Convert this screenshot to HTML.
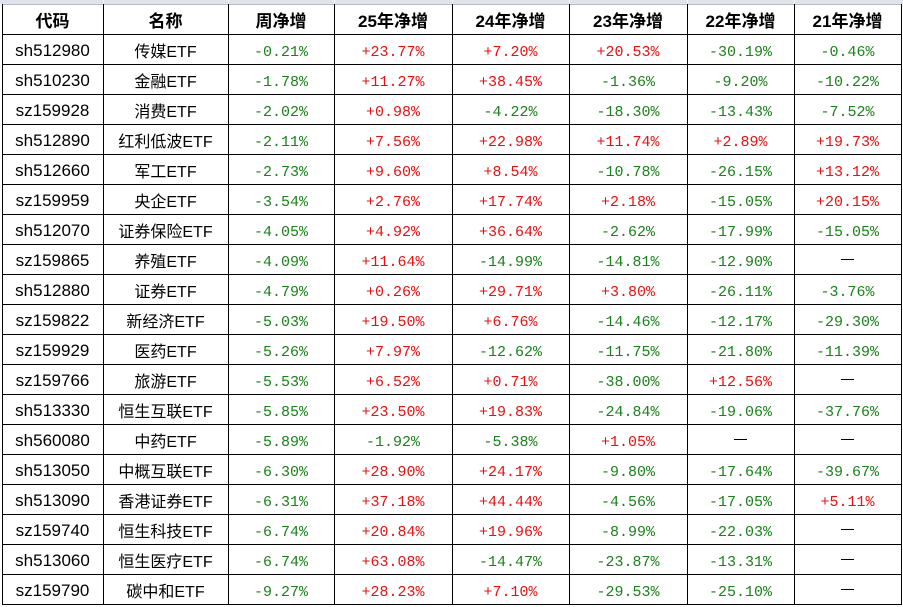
<!DOCTYPE html>
<html><head><meta charset="utf-8">
<style>
html,body{margin:0;padding:0;background:#fff;}
body{width:903px;height:607px;position:relative;overflow:hidden;}
.strip{position:absolute;left:0;top:0;width:903px;height:4px;background:#dfe4ea;}
.sep{position:absolute;top:0;width:1px;height:4px;background:#f4f6f8;}
.v{position:absolute;top:4px;width:1px;height:601px;background:#000;}
.h{position:absolute;left:2px;width:900px;height:1px;background:#000;}
.grid{position:absolute;left:2px;top:4px;display:grid;
 grid-template-columns:101px 125px 106px 118px 117px 118px 107px 107px;
 grid-template-rows:repeat(20,30px);}
.grid div{display:flex;align-items:center;justify-content:center;white-space:nowrap;}
.hd{font-family:"Liberation Sans","Noto Sans CJK SC",sans-serif;font-weight:bold;font-size:17px;color:#000;}
.c{font-family:"Liberation Sans","Noto Sans CJK SC",sans-serif;font-size:17px;color:#000;padding-top:4px;box-sizing:border-box;}
.n{font-family:"Liberation Sans","Noto Sans CJK SC",sans-serif;font-size:16px;color:#000;padding-top:2px;box-sizing:border-box;}
.g,.r{font-family:"Liberation Mono",monospace;font-size:15px;padding-top:6px;box-sizing:border-box;}
.g{color:#1a821a;}
.r{color:#e81010;}
.d span{display:block;width:13px;height:1px;background:#000;}
</style></head><body>
<div class="strip"></div>
<div class="sep" style="left:103px"></div><div class="sep" style="left:228px"></div><div class="sep" style="left:334px"></div><div class="sep" style="left:452px"></div><div class="sep" style="left:569px"></div><div class="sep" style="left:687px"></div><div class="sep" style="left:794px"></div>
<div class="h" style="top:4px;background:#b8bcc2"></div>
<div class="h" style="top:34px"></div><div class="h" style="top:64px"></div><div class="h" style="top:94px"></div><div class="h" style="top:124px"></div><div class="h" style="top:154px"></div><div class="h" style="top:184px"></div><div class="h" style="top:214px"></div><div class="h" style="top:244px"></div><div class="h" style="top:274px"></div><div class="h" style="top:304px"></div><div class="h" style="top:334px"></div><div class="h" style="top:364px"></div><div class="h" style="top:394px"></div><div class="h" style="top:424px"></div><div class="h" style="top:454px"></div><div class="h" style="top:484px"></div><div class="h" style="top:514px"></div><div class="h" style="top:544px"></div><div class="h" style="top:574px"></div><div class="h" style="top:604px"></div>
<div class="v" style="left:2px"></div><div class="v" style="left:103px"></div><div class="v" style="left:228px"></div><div class="v" style="left:334px"></div><div class="v" style="left:452px"></div><div class="v" style="left:569px"></div><div class="v" style="left:687px"></div><div class="v" style="left:794px"></div><div class="v" style="left:901px"></div>
<div class="grid">
<div class="hd">代码</div><div class="hd">名称</div><div class="hd">周净增</div><div class="hd">25年净增</div><div class="hd">24年净增</div><div class="hd">23年净增</div><div class="hd">22年净增</div><div class="hd">21年净增</div>

<div class="c">sh512980</div><div class="n">传媒ETF</div><div class="g">-0.21%</div><div class="r">+23.77%</div><div class="r">+7.20%</div><div class="r">+20.53%</div><div class="g">-30.19%</div><div class="g">-0.46%</div>
<div class="c">sh510230</div><div class="n">金融ETF</div><div class="g">-1.78%</div><div class="r">+11.27%</div><div class="r">+38.45%</div><div class="g">-1.36%</div><div class="g">-9.20%</div><div class="g">-10.22%</div>
<div class="c">sz159928</div><div class="n">消费ETF</div><div class="g">-2.02%</div><div class="r">+0.98%</div><div class="g">-4.22%</div><div class="g">-18.30%</div><div class="g">-13.43%</div><div class="g">-7.52%</div>
<div class="c">sh512890</div><div class="n">红利低波ETF</div><div class="g">-2.11%</div><div class="r">+7.56%</div><div class="r">+22.98%</div><div class="r">+11.74%</div><div class="r">+2.89%</div><div class="r">+19.73%</div>
<div class="c">sh512660</div><div class="n">军工ETF</div><div class="g">-2.73%</div><div class="r">+9.60%</div><div class="r">+8.54%</div><div class="g">-10.78%</div><div class="g">-26.15%</div><div class="r">+13.12%</div>
<div class="c">sz159959</div><div class="n">央企ETF</div><div class="g">-3.54%</div><div class="r">+2.76%</div><div class="r">+17.74%</div><div class="r">+2.18%</div><div class="g">-15.05%</div><div class="r">+20.15%</div>
<div class="c">sh512070</div><div class="n">证券保险ETF</div><div class="g">-4.05%</div><div class="r">+4.92%</div><div class="r">+36.64%</div><div class="g">-2.62%</div><div class="g">-17.99%</div><div class="g">-15.05%</div>
<div class="c">sz159865</div><div class="n">养殖ETF</div><div class="g">-4.09%</div><div class="r">+11.64%</div><div class="g">-14.99%</div><div class="g">-14.81%</div><div class="g">-12.90%</div><div class="d"><span></span></div>
<div class="c">sh512880</div><div class="n">证券ETF</div><div class="g">-4.79%</div><div class="r">+0.26%</div><div class="r">+29.71%</div><div class="r">+3.80%</div><div class="g">-26.11%</div><div class="g">-3.76%</div>
<div class="c">sz159822</div><div class="n">新经济ETF</div><div class="g">-5.03%</div><div class="r">+19.50%</div><div class="r">+6.76%</div><div class="g">-14.46%</div><div class="g">-12.17%</div><div class="g">-29.30%</div>
<div class="c">sz159929</div><div class="n">医药ETF</div><div class="g">-5.26%</div><div class="r">+7.97%</div><div class="g">-12.62%</div><div class="g">-11.75%</div><div class="g">-21.80%</div><div class="g">-11.39%</div>
<div class="c">sz159766</div><div class="n">旅游ETF</div><div class="g">-5.53%</div><div class="r">+6.52%</div><div class="r">+0.71%</div><div class="g">-38.00%</div><div class="r">+12.56%</div><div class="d"><span></span></div>
<div class="c">sh513330</div><div class="n">恒生互联ETF</div><div class="g">-5.85%</div><div class="r">+23.50%</div><div class="r">+19.83%</div><div class="g">-24.84%</div><div class="g">-19.06%</div><div class="g">-37.76%</div>
<div class="c">sh560080</div><div class="n">中药ETF</div><div class="g">-5.89%</div><div class="g">-1.92%</div><div class="g">-5.38%</div><div class="r">+1.05%</div><div class="d"><span></span></div><div class="d"><span></span></div>
<div class="c">sh513050</div><div class="n">中概互联ETF</div><div class="g">-6.30%</div><div class="r">+28.90%</div><div class="r">+24.17%</div><div class="g">-9.80%</div><div class="g">-17.64%</div><div class="g">-39.67%</div>
<div class="c">sh513090</div><div class="n">香港证券ETF</div><div class="g">-6.31%</div><div class="r">+37.18%</div><div class="r">+44.44%</div><div class="g">-4.56%</div><div class="g">-17.05%</div><div class="r">+5.11%</div>
<div class="c">sz159740</div><div class="n">恒生科技ETF</div><div class="g">-6.74%</div><div class="r">+20.84%</div><div class="r">+19.96%</div><div class="g">-8.99%</div><div class="g">-22.03%</div><div class="d"><span></span></div>
<div class="c">sh513060</div><div class="n">恒生医疗ETF</div><div class="g">-6.74%</div><div class="r">+63.08%</div><div class="g">-14.47%</div><div class="g">-23.87%</div><div class="g">-13.31%</div><div class="d"><span></span></div>
<div class="c">sz159790</div><div class="n">碳中和ETF</div><div class="g">-9.27%</div><div class="r">+28.23%</div><div class="r">+7.10%</div><div class="g">-29.53%</div><div class="g">-25.10%</div><div class="d"><span></span></div>
</div>
</body></html>
